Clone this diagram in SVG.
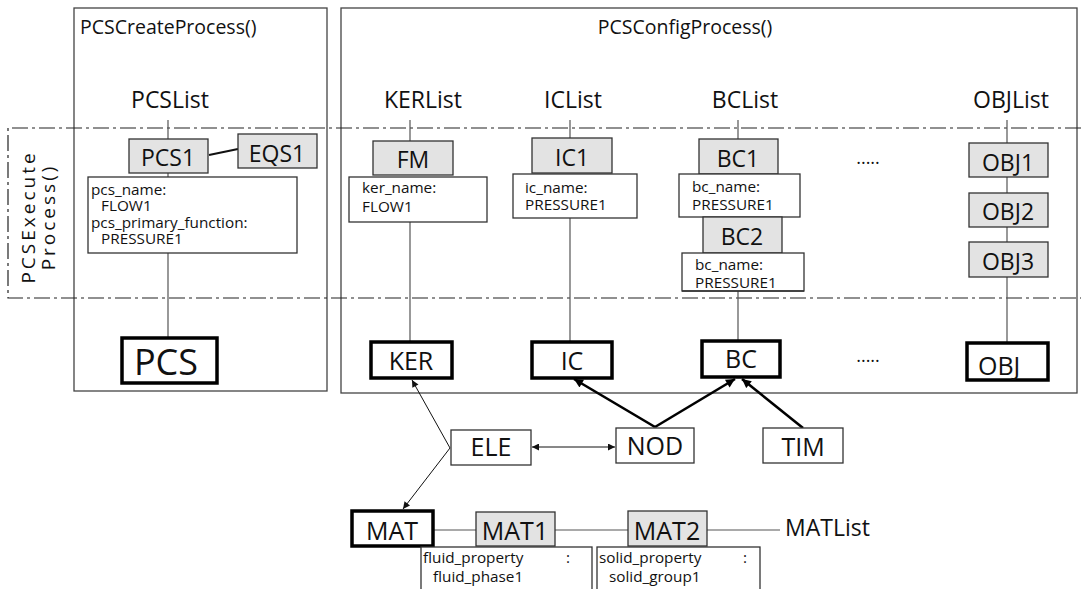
<svg xmlns="http://www.w3.org/2000/svg" width="1081" height="589" viewBox="0 0 1081 589">
<defs>
<style>
text{font-family:"Open Sans","Noto Sans","Liberation Sans",sans-serif;fill:#111}
.frame{fill:none;stroke:#444;stroke-width:1.3}
.dash{fill:none;stroke:#222;stroke-width:1.2;stroke-dasharray:16 4 3 4}
.gray{fill:#e3e3e3;stroke:#333;stroke-width:1.3}
.info{fill:#fff;stroke:#333;stroke-width:1.3}
.big{fill:#fff;stroke:#000;stroke-width:3.5}
.plain{fill:#fff;stroke:#333;stroke-width:1.3}
.vl{fill:none;stroke:#555;stroke-width:1.2}
.thin{fill:none;stroke:#111;stroke-width:1}
.thick{fill:none;stroke:#000;stroke-width:2.6}
.title{font-size:19.5px}
.list{font-size:23px;text-anchor:middle}
.lab{font-size:23px;text-anchor:middle}
.lab2{font-size:25px;text-anchor:middle}
.sm{font-size:15.3px}
</style>
<marker id="ah" viewBox="0 0 10 10" refX="10" refY="5" markerWidth="9" markerHeight="7" markerUnits="userSpaceOnUse" orient="auto-start-reverse"><path d="M0,0 L10,5 L0,10 z" fill="#111"/></marker>
<marker id="ahk" viewBox="0 0 10 10" refX="10" refY="5" markerWidth="11" markerHeight="9" markerUnits="userSpaceOnUse" orient="auto"><path d="M0,0 L10,5 L0,10 z" fill="#000"/></marker>
</defs>
<rect width="1081" height="589" fill="#fff"/>

<g id="frames">
<rect class="frame" x="74" y="8" width="253" height="383"/>
<text class="title" x="80" y="34">PCSCreateProcess()</text>
<rect class="frame" x="341" y="8" width="736" height="385"/>
<text class="title" x="685" y="34" text-anchor="middle">PCSConfigProcess()</text>
</g>

<g id="execute-region">
<path class="dash" d="M1081,128 H8 V298 H1081"/>
<text font-size="19" letter-spacing="3" text-anchor="middle" transform="translate(35,217) rotate(-90)">PCSExecute</text>
<text font-size="19" letter-spacing="3" text-anchor="middle" transform="translate(55,217) rotate(-90)">Process()</text>
</g>

<g id="list-labels">
<text class="list" x="170" y="108">PCSList</text>
<text class="list" x="423" y="108">KERList</text>
<text class="list" x="573" y="108">ICList</text>
<text class="list" x="745" y="108">BCList</text>
<text class="list" x="1011" y="108">OBJList</text>
<text x="785" y="536" font-size="23">MATList</text>
</g>

<g id="connectors">
<path class="vl" d="M168,120 V139 M168,173 V177 M168,253 V338"/>
<path d="M209,155 L238,149" stroke="#111" stroke-width="2.2" fill="none"/>
<path class="vl" d="M410,120 V141 M410,222 V342"/>
<path class="vl" d="M570,120 V138 M570,218 V342"/>
<path class="vl" d="M738,120 V139 M738,291 V341"/>
<path class="vl" d="M1007,120 V143 M1007,177 V193 M1007,227 V242 M1007,277 V343"/>
<path class="vl" d="M433,530 H476 M555,530 H628 M707,530 H780"/>
<line class="thin" x1="450" y1="448" x2="412" y2="380" marker-end="url(#ah)"/>
<line class="thin" x1="450" y1="448" x2="403" y2="509" marker-end="url(#ah)"/>
<line class="thin" x1="532" y1="447" x2="615" y2="447" marker-start="url(#ah)" marker-end="url(#ah)"/>
<line class="thick" x1="655" y1="427" x2="574" y2="379" marker-end="url(#ahk)"/>
<line class="thick" x1="655" y1="427" x2="735" y2="379" marker-end="url(#ahk)"/>
<line class="thick" x1="803" y1="428" x2="742" y2="379" marker-end="url(#ahk)"/>
</g>

<g id="pcs1"><rect class="gray" x="129" y="139" width="79" height="34"/><text class="lab" x="168" y="166">PCS1</text></g>
<g id="eqs1"><rect class="gray" x="238" y="134" width="79" height="34"/><text class="lab" x="277" y="162">EQS1</text></g>
<g id="pcs1-info"><rect class="info" x="88" y="177" width="209" height="76"/>
<text class="sm" x="91" y="195">pcs_name:</text>
<text class="sm" x="101" y="211">FLOW1</text>
<text class="sm" x="91" y="228">pcs_primary_function:</text>
<text class="sm" x="101" y="244">PRESSURE1</text></g>
<g id="pcs"><rect class="big" x="122" y="338" width="95" height="45"/><text x="166" y="375" font-size="36" text-anchor="middle">PCS</text></g>

<g id="fm"><rect class="gray" x="373" y="141" width="80" height="34"/><text class="lab" x="413" y="168">FM</text></g>
<g id="fm-info"><rect class="info" x="349" y="177" width="138" height="45"/>
<text class="sm" x="362" y="193">ker_name:</text>
<text class="sm" x="362" y="212">FLOW1</text></g>
<g id="ker"><rect class="big" x="371" y="342" width="81" height="36"/><text class="lab2" x="411" y="370">KER</text></g>

<g id="ic1"><rect class="gray" x="532" y="138" width="80" height="35"/><text class="lab" x="572" y="166">IC1</text></g>
<g id="ic1-info"><rect class="info" x="513" y="174" width="124" height="44"/>
<text class="sm" x="525" y="193">ic_name:</text>
<text class="sm" x="525" y="210">PRESSURE1</text></g>
<g id="ic"><rect class="big" x="532" y="342" width="80" height="36"/><text class="lab2" x="572" y="370">IC</text></g>

<g id="bc1"><rect class="gray" x="699" y="139" width="79" height="35"/><text class="lab" x="738" y="167">BC1</text></g>
<g id="bc1-info"><rect class="info" x="679" y="174" width="121" height="43"/>
<text class="sm" x="692" y="192">bc_name:</text>
<text class="sm" x="692" y="210">PRESSURE1</text></g>
<g id="bc2"><rect class="gray" x="703" y="217" width="79" height="36"/><text class="lab" x="742" y="245">BC2</text></g>
<g id="bc2-info"><rect class="info" x="682" y="253" width="122" height="38"/>
<text class="sm" x="695" y="270">bc_name:</text>
<text class="sm" x="695" y="288">PRESSURE1</text>
<path d="M682,291 H804" stroke="#333" stroke-width="1.3"/></g>
<g id="bc"><rect class="big" x="702" y="341" width="78" height="36"/><text class="lab2" x="741" y="368">BC</text></g>

<g id="dots1"><text x="868" y="164" font-size="18" text-anchor="middle">.....</text></g>
<g id="dots2"><text x="868" y="362" font-size="18" text-anchor="middle">.....</text></g>

<g id="obj1"><rect class="gray" x="969" y="143" width="79" height="34"/><text class="lab" x="1008" y="171">OBJ1</text></g>
<g id="obj2"><rect class="gray" x="969" y="193" width="79" height="34"/><text class="lab" x="1008" y="220">OBJ2</text></g>
<g id="obj3"><rect class="gray" x="969" y="242" width="79" height="35"/><text class="lab" x="1008" y="270">OBJ3</text></g>
<g id="obj"><rect class="big" x="967" y="343" width="81" height="37"/><text x="978" y="375" font-size="25">OBJ</text></g>

<g id="ele"><rect class="plain" x="451" y="430" width="80" height="35"/><text class="lab2" x="491" y="456">ELE</text></g>
<g id="nod"><rect class="plain" x="616" y="428" width="78" height="35"/><text class="lab2" x="655" y="455">NOD</text></g>
<g id="tim"><rect class="plain" x="763" y="428" width="80" height="35"/><text class="lab2" x="803" y="456">TIM</text></g>

<g id="mat"><rect class="big" x="352" y="511" width="81" height="35"/><text class="lab2" x="392" y="540">MAT</text></g>
<g id="mat1"><rect class="gray" x="476" y="512" width="79" height="34"/><text class="lab2" x="515" y="540">MAT1</text></g>
<g id="mat2"><rect class="gray" x="628" y="511" width="79" height="35"/><text class="lab2" x="667" y="540">MAT2</text></g>
<g id="mat1-info"><rect class="info" x="421" y="547" width="171" height="50"/>
<text class="sm" x="423" y="563">fluid_property</text>
<text class="sm" x="566" y="563">:</text>
<text class="sm" x="433" y="582">fluid_phase1</text></g>
<g id="mat2-info"><rect class="info" x="597" y="547" width="163" height="50"/>
<text class="sm" x="599" y="563">solid_property</text>
<text class="sm" x="743" y="563">:</text>
<text class="sm" x="609" y="582">solid_group1</text></g>
</svg>
